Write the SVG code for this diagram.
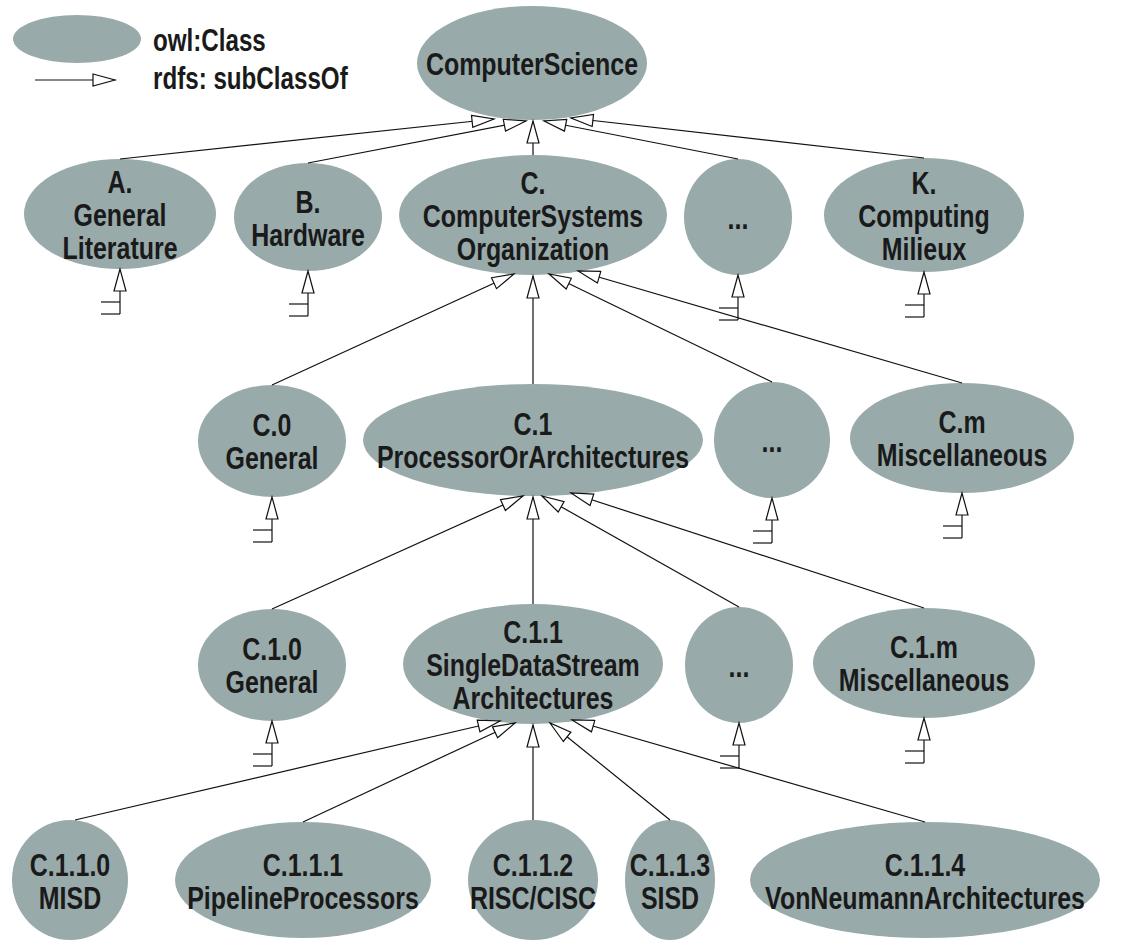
<svg xmlns="http://www.w3.org/2000/svg" width="1122" height="943" viewBox="0 0 1122 943">
  <defs>
    <style>
      .node ellipse { fill: #98aaaa; }
      .t { font-family: "Liberation Sans", Arial, sans-serif; font-weight: bold; font-size: 32px; fill: #1a1a1a; text-anchor: middle; }
      .lg { font-family: "Liberation Sans", Arial, sans-serif; font-weight: bold; font-size: 31px; fill: #1a1a1a; }
      .edge { stroke: #111; stroke-width: 1.2; fill: none; marker-end: url(#tri); }
      .stub line { stroke: #111; stroke-width: 1.2; }
      .stub polygon { fill: #fff; stroke: #111; stroke-width: 1.2; }
    </style>
    <marker id="tri" markerUnits="userSpaceOnUse" markerWidth="26" markerHeight="14" refX="23" refY="7" orient="auto">
      <path d="M1,1 L23,7 L1,13 Z" fill="#fff" stroke="#111" stroke-width="1.2"/>
    </marker>
    <!-- open-ended subclass stub hanging below a class -->
    <g id="stub" class="stub">
      <line x1="0" y1="22" x2="0" y2="45"/>
      <line x1="-19" y1="33" x2="0" y2="33"/>
      <line x1="-19" y1="45" x2="0" y2="45"/>
      <polygon points="0,0 -6,22 6,22"/>
    </g>
  </defs>

  <rect width="1122" height="943" fill="#fff"/>

  <!-- legend -->
  <g id="legend">
    <ellipse cx="77" cy="39" rx="64" ry="24" fill="#98aaaa"/>
    <text class="lg" transform="translate(153 51) scale(0.78 1)">owl:Class</text>
    <line class="edge" x1="35" y1="80" x2="115" y2="80"/>
    <text class="lg" transform="translate(153 89) scale(0.78 1)">rdfs: subClassOf</text>
  </g>

  <!-- root -->
  <g id="n-cs" class="node">
    <ellipse cx="532" cy="63" rx="115" ry="57"/>
    <text class="t" transform="translate(532 75) scale(0.78 1)">ComputerScience</text>
  </g>

  <!-- level 1 -->
  <g id="n-a" class="node">
    <ellipse cx="120" cy="214" rx="96" ry="55"/>
    <text class="t" transform="translate(120 0) scale(0.78 1)"><tspan x="0" y="193">A.</tspan><tspan x="0" y="226">General</tspan><tspan x="0" y="259">Literature</tspan></text>
  </g>
  <g id="n-b" class="node">
    <ellipse cx="308" cy="217" rx="74" ry="54"/>
    <text class="t" transform="translate(308 0) scale(0.78 1)"><tspan x="0" y="213">B.</tspan><tspan x="0" y="246">Hardware</tspan></text>
  </g>
  <g id="n-c" class="node">
    <ellipse cx="533" cy="215" rx="134" ry="60"/>
    <text class="t" transform="translate(533 0) scale(0.78 1)"><tspan x="0" y="194">C.</tspan><tspan x="0" y="227">ComputerSystems</tspan><tspan x="0" y="260">Organization</tspan></text>
  </g>
  <g id="n-l1-more" class="node">
    <ellipse cx="738" cy="217" rx="54" ry="58"/>
    <text class="t" transform="translate(738 229) scale(0.78 1)">...</text>
  </g>
  <g id="n-k" class="node">
    <ellipse cx="924" cy="215" rx="100" ry="57"/>
    <text class="t" transform="translate(924 0) scale(0.78 1)"><tspan x="0" y="194">K.</tspan><tspan x="0" y="227">Computing</tspan><tspan x="0" y="260">Milieux</tspan></text>
  </g>

  <!-- level 2 -->
  <g id="n-c0" class="node">
    <ellipse cx="272" cy="441" rx="74" ry="56"/>
    <text class="t" transform="translate(272 0) scale(0.78 1)"><tspan x="0" y="436">C.0</tspan><tspan x="0" y="469">General</tspan></text>
  </g>
  <g id="n-c1" class="node">
    <ellipse cx="533" cy="440" rx="170" ry="56"/>
    <text class="t" transform="translate(533 0) scale(0.78 1)"><tspan x="0" y="435">C.1</tspan><tspan x="0" y="468">ProcessorOrArchitectures</tspan></text>
  </g>
  <g id="n-l2-more" class="node">
    <ellipse cx="772" cy="440" rx="58" ry="58"/>
    <text class="t" transform="translate(772 452) scale(0.78 1)">...</text>
  </g>
  <g id="n-cm" class="node">
    <ellipse cx="962" cy="438" rx="112" ry="55"/>
    <text class="t" transform="translate(962 0) scale(0.78 1)"><tspan x="0" y="433">C.m</tspan><tspan x="0" y="466">Miscellaneous</tspan></text>
  </g>

  <!-- level 3 -->
  <g id="n-c10" class="node">
    <ellipse cx="272" cy="665" rx="74" ry="56"/>
    <text class="t" transform="translate(272 0) scale(0.78 1)"><tspan x="0" y="660">C.1.0</tspan><tspan x="0" y="693">General</tspan></text>
  </g>
  <g id="n-c11" class="node">
    <ellipse cx="533" cy="664" rx="130" ry="60"/>
    <text class="t" transform="translate(533 0) scale(0.78 1)"><tspan x="0" y="643">C.1.1</tspan><tspan x="0" y="676">SingleDataStream</tspan><tspan x="0" y="709">Architectures</tspan></text>
  </g>
  <g id="n-l3-more" class="node">
    <ellipse cx="739" cy="665" rx="54" ry="58"/>
    <text class="t" transform="translate(739 677) scale(0.78 1)">...</text>
  </g>
  <g id="n-c1m" class="node">
    <ellipse cx="924" cy="663" rx="111" ry="55"/>
    <text class="t" transform="translate(924 0) scale(0.78 1)"><tspan x="0" y="658">C.1.m</tspan><tspan x="0" y="691">Miscellaneous</tspan></text>
  </g>

  <!-- level 4 -->
  <g id="n-c110" class="node">
    <ellipse cx="70" cy="880" rx="58" ry="60"/>
    <text class="t" transform="translate(70 0) scale(0.78 1)"><tspan x="0" y="876">C.1.1.0</tspan><tspan x="0" y="909">MISD</tspan></text>
  </g>
  <g id="n-c111" class="node">
    <ellipse cx="303" cy="880" rx="128" ry="58"/>
    <text class="t" transform="translate(303 0) scale(0.78 1)"><tspan x="0" y="876">C.1.1.1</tspan><tspan x="0" y="909">PipelineProcessors</tspan></text>
  </g>
  <g id="n-c112" class="node">
    <ellipse cx="533" cy="880" rx="65" ry="60"/>
    <text class="t" transform="translate(533 0) scale(0.78 1)"><tspan x="0" y="876">C.1.1.2</tspan><tspan x="0" y="909">RISC/CISC</tspan></text>
  </g>
  <g id="n-c113" class="node">
    <ellipse cx="670" cy="880" rx="45" ry="60"/>
    <text class="t" transform="translate(670 0) scale(0.78 1)"><tspan x="0" y="876">C.1.1.3</tspan><tspan x="0" y="909">SISD</tspan></text>
  </g>
  <g id="n-c114" class="node">
    <ellipse cx="925" cy="880" rx="175" ry="58"/>
    <text class="t" transform="translate(925 0) scale(0.78 1)"><tspan x="0" y="876">C.1.1.4</tspan><tspan x="0" y="909">VonNeumannArchitectures</tspan></text>
  </g>

  <!-- subClassOf connectors -->
  <g id="connectors">
    <line class="edge" x1="120" y1="159" x2="494" y2="119"/>
    <line class="edge" x1="308" y1="163" x2="526" y2="121"/>
    <line class="edge" x1="533" y1="155" x2="533" y2="121"/>
    <line class="edge" x1="738" y1="159" x2="544" y2="121"/>
    <line class="edge" x1="924" y1="158" x2="571" y2="118"/>

    <line class="edge" x1="272" y1="385" x2="514" y2="274"/>
    <line class="edge" x1="533" y1="384" x2="533" y2="276"/>
    <line class="edge" x1="772" y1="382" x2="549" y2="274"/>
    <line class="edge" x1="962" y1="383" x2="578" y2="271"/>

    <line class="edge" x1="272" y1="609" x2="523" y2="496"/>
    <line class="edge" x1="533" y1="604" x2="533" y2="497"/>
    <line class="edge" x1="739" y1="607" x2="542" y2="496"/>
    <line class="edge" x1="924" y1="608" x2="571" y2="493"/>

    <line class="edge" x1="75" y1="820" x2="500" y2="721"/>
    <line class="edge" x1="303" y1="822" x2="515" y2="723"/>
    <line class="edge" x1="533" y1="820" x2="533" y2="725"/>
    <line class="edge" x1="670" y1="820" x2="550" y2="723"/>
    <line class="edge" x1="925" y1="822" x2="572" y2="720"/>

    <!-- stubs for classes whose subclasses are not shown -->
    <use href="#stub" x="120" y="269"/>
    <use href="#stub" x="308" y="271"/>
    <use href="#stub" x="738" y="275"/>
    <use href="#stub" x="924" y="272"/>
    <use href="#stub" x="272" y="497"/>
    <use href="#stub" x="772" y="498"/>
    <use href="#stub" x="962" y="493"/>
    <use href="#stub" x="272" y="721"/>
    <use href="#stub" x="739" y="723"/>
    <use href="#stub" x="924" y="718"/>
  </g>
</svg>
